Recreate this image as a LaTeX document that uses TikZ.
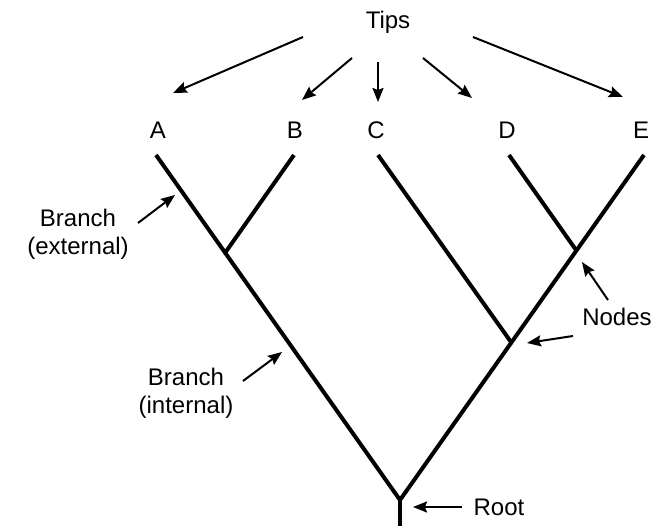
\documentclass[tikz,border=0pt]{standalone}
\usepackage{fontspec}
\setmainfont{Liberation Sans}
\usetikzlibrary{arrows.meta}
\begin{document}
\begin{tikzpicture}[x=1pt,y=-1pt,
  lbl/.style={font=\fontsize{24}{28}\selectfont, inner sep=0pt, align=center},
  branch/.style={line width=4pt},
  pointer/.style={line width=2pt, -{Stealth[length=14pt,width=11pt,inset=2pt]}}]
\useasboundingbox (0,0) rectangle (654,526);

% tree skeleton
\coordinate (root) at (400,500);
\coordinate (base) at (400,530);
\coordinate (jAB) at (225,253);
\coordinate (jCDE) at (511,342);
\coordinate (jDE) at (576,250);
\coordinate (tA) at (156,155);
\coordinate (tB) at (294,155);
\coordinate (tC) at (378,155);
\coordinate (tD) at (509,155);
\coordinate (tE) at (644,155);

\draw[branch] (base) -- (root);
\draw[branch] (root) -- (tA);
\draw[branch] (jAB) -- (tB);
\draw[branch] (root) -- (tE);
\draw[branch] (jCDE) -- (tC);
\draw[branch] (jDE) -- (tD);

% tip labels
\node[lbl] (A) at (158,130) {A};
\node[lbl] (B) at (295,130) {B};
\node[lbl] (C) at (376,130) {C};
\node[lbl] (D) at (507,130) {D};
\node[lbl] (E) at (641,130) {E};

% annotations
\node[lbl] (tips) at (388,22) {Tips};
\node[lbl] (extlbl) at (78,234) {Branch\\(external)};
\node[lbl] (intlbl) at (186,393) {Branch\\(internal)};
\node[lbl] (nodeslbl) at (617,317) {Nodes};
\node[lbl] (rootlbl) at (499,507) {Root};

% arrows from "Tips" to the tips
\coordinate (sA) at (303,37);  \coordinate (eA) at (173,93);
\coordinate (sB) at (352,58);  \coordinate (eB) at (302,100);
\coordinate (sC) at (378,62);  \coordinate (eC) at (378,102);
\coordinate (sD) at (423,58);  \coordinate (eD) at (472,98);
\coordinate (sE) at (473,37);  \coordinate (eE) at (623,97);
\draw[pointer] (sA) -- (eA);
\draw[pointer] (sB) -- (eB);
\draw[pointer] (sC) -- (eC);
\draw[pointer] (sD) -- (eD);
\draw[pointer] (sE) -- (eE);

% arrows to branches, nodes and root
\coordinate (sExt) at (138,223); \coordinate (eExt) at (175,195);
\coordinate (sInt) at (243,381); \coordinate (eInt) at (282,352);
\coordinate (sN1) at (608,300);  \coordinate (eN1) at (582,262);
\coordinate (sN2) at (573,336);  \coordinate (eN2) at (527,343);
\coordinate (sR) at (462,507);   \coordinate (eR) at (413,507);
\draw[pointer] (sExt) -- (eExt);
\draw[pointer] (sInt) -- (eInt);
\draw[pointer] (sN1) -- (eN1);
\draw[pointer] (sN2) -- (eN2);
\draw[pointer] (sR) -- (eR);
\end{tikzpicture}
\end{document}
